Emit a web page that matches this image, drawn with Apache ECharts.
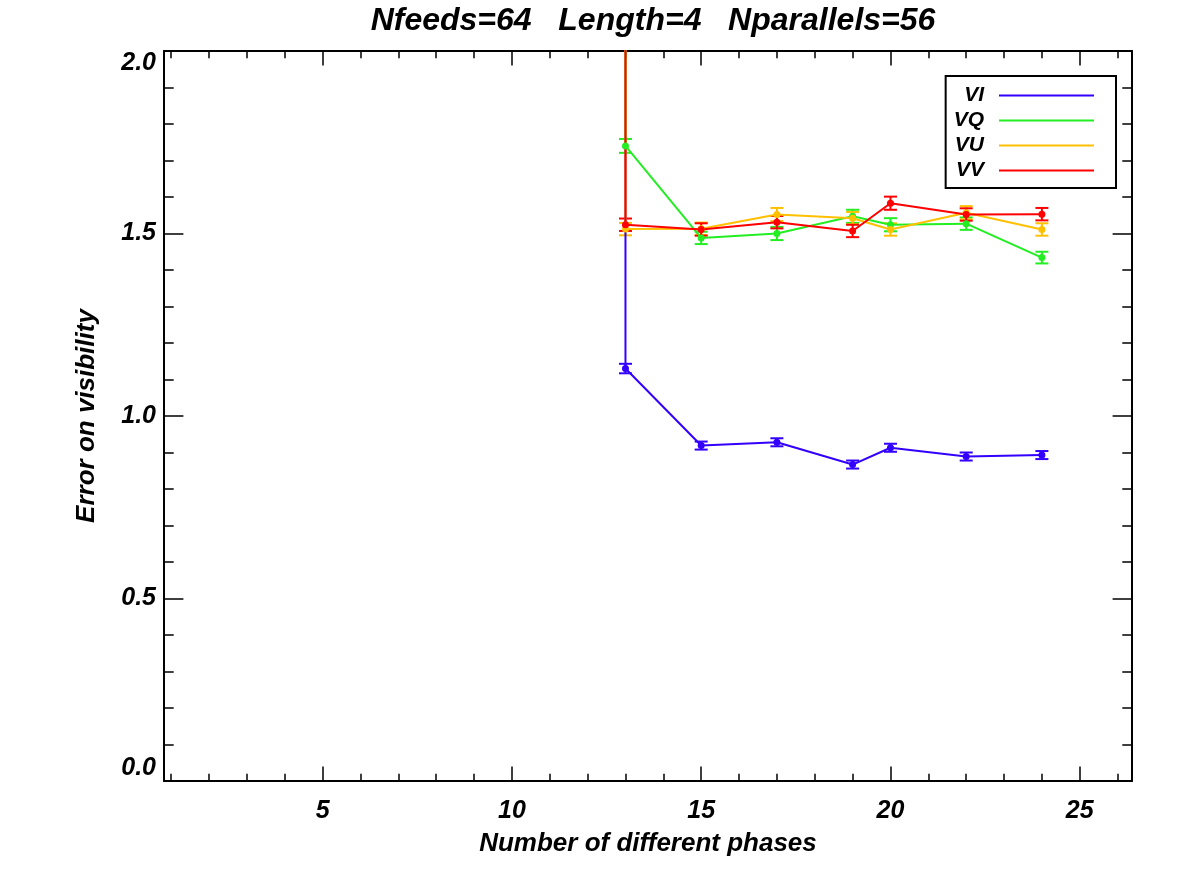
<!DOCTYPE html>
<html>
<head>
<meta charset="utf-8">
<script src="https://cdn.jsdelivr.net/npm/echarts@6/dist/echarts.min.js"></script>
<style>
  html, body { margin: 0; padding: 0; background: #fff; }
  #chart { width: 1181px; height: 885px; }
</style>
</head>
<body>
<div id="chart"></div>
<script>
const FONT = 'Liberation Sans, Arial, sans-serif'

// number of phases (first point is off the top of the plot)
const phases = [13, 13, 15, 17, 19, 20, 22, 24]

const VI = [2.6, 1.130, 0.919, 0.928, 0.867, 0.913, 0.889, 0.893]
const VI_ERR = [null, 0.013, 0.011, 0.011, 0.011, 0.011, 0.011, 0.011]
const VQ = [2.6, 1.740, 1.488, 1.500, 1.547, 1.524, 1.527, 1.434]
const VQ_ERR = [null, 0.019, 0.017, 0.018, 0.018, 0.018, 0.017, 0.016]
const VU = [2.6, 1.512, 1.513, 1.552, 1.542, 1.511, 1.557, 1.511]
const VU_ERR = [null, 0.017, 0.017, 0.018, 0.017, 0.017, 0.018, 0.017]
const VV = [2.6, 1.524, 1.511, 1.531, 1.507, 1.583, 1.552, 1.553]
const VV_ERR = [null, 0.017, 0.017, 0.017, 0.017, 0.018, 0.017, 0.017]

const seriesNames = ['VI', 'VQ', 'VU', 'VV']
const seriesValues = [VI, VQ, VU, VV]
const seriesErrors = [VI_ERR, VQ_ERR, VU_ERR, VV_ERR]
const colors = ['#3300ff', '#22ee22', '#ffc000', '#ff0000']

// axis ranges
const X_MIN = 0.81
const X_MAX = 26.38
const Y_MIN = 0
const Y_MAX = 2

// plot box in pixels
const GRID_L = 164
const GRID_R = 49
const GRID_T = 51
const GRID_B = 104
const GRID_W = 1181 - GRID_L - GRID_R

// second grid only carries the unit minor ticks on x (1..26)
const MINOR_MIN = 1
const MINOR_MAX = 26
const minorLeft = GRID_L + (MINOR_MIN - X_MIN) / (X_MAX - X_MIN) * GRID_W
const minorRight = GRID_R + (X_MAX - MINOR_MAX) / (X_MAX - X_MIN) * GRID_W

const labelFont = { color: '#000', fontFamily: FONT, fontWeight: 'bold', fontStyle: 'italic' }
const axisLine = { show: true, onZero: false, lineStyle: { color: '#000', width: 2 } }

const chart = echarts.init(document.getElementById('chart'), null, { renderer: 'canvas' })

const series = []
seriesNames.forEach((name, i) => {
  const pts = phases.map((x, k) => [x, seriesValues[i][k]])
  const errs = phases.map((x, k) => [x, seriesValues[i][k], seriesErrors[i][k]])
  series.push({
    name: name,
    type: 'line',
    xAxisIndex: 0,
    yAxisIndex: 0,
    data: pts,
    symbol: 'circle',
    symbolSize: 7,
    showAllSymbol: true,
    clip: true,
    animation: false,
    lineStyle: { color: colors[i], width: 2 },
    itemStyle: { color: colors[i] },
  })
  series.push({
    name: name + ' err',
    type: 'custom',
    xAxisIndex: 0,
    yAxisIndex: 0,
    data: errs,
    encode: { x: 0, y: 1 },
    animation: false,
    renderItem: function (params, api) {
      const e = api.value(2)
      if (e === null || isNaN(e)) return
      const x = api.value(0)
      const y = api.value(1)
      const top = api.coord([x, y + e])
      const bot = api.coord([x, y - e])
      const hw = 6.5
      const style = { stroke: colors[i], lineWidth: 2 }
      return {
        type: 'group',
        children: [
          { type: 'line', shape: { x1: top[0], y1: top[1], x2: bot[0], y2: bot[1] }, style: style },
          { type: 'line', shape: { x1: top[0] - hw, y1: top[1], x2: top[0] + hw, y2: top[1] }, style: style },
          { type: 'line', shape: { x1: bot[0] - hw, y1: bot[1], x2: bot[0] + hw, y2: bot[1] }, style: style },
        ],
      }
    },
  })
})

const option = {
  backgroundColor: '#fff',
  animation: false,
  title: {
    text: 'Nfeeds=64   Length=4   Nparallels=56',
    left: GRID_L + GRID_W / 2,
    textAlign: 'center',
    top: 0,
    textStyle: Object.assign({ fontSize: 32 }, labelFont),
  },
  legend: {
    data: seriesNames,
    orient: 'vertical',
    align: 'right',
    right: 65,
    top: 76,
    icon: 'rect',
    itemWidth: 95,
    itemHeight: 2,
    itemGap: 4,
    padding: [9, 22, 7, 8],
    borderColor: '#000',
    borderWidth: 2,
    borderRadius: 0,
    selectedMode: false,
    textStyle: Object.assign({ fontSize: 21, lineHeight: 20, padding: [0, 10, 0, 0] }, labelFont),
  },
  grid: [
    { left: GRID_L, right: GRID_R, top: GRID_T, bottom: GRID_B },
    { left: minorLeft, right: minorRight, top: GRID_T, bottom: GRID_B },
  ],
  xAxis: [
    {
      gridIndex: 0,
      type: 'value',
      position: 'bottom',
      min: X_MIN,
      max: X_MAX,
      splitNumber: 5,
      axisLine: axisLine,
      axisTick: { show: true, inside: true, length: 14.6, lineStyle: { color: '#000', width: 1.5 } },
      axisLabel: Object.assign({ fontSize: 25, margin: 18, showMinLabel: false, showMaxLabel: false }, labelFont),
      splitLine: { show: false },
      name: 'Number of different phases',
      nameLocation: 'middle',
      nameGap: 50,
      nameTextStyle: Object.assign({ fontSize: 26 }, labelFont),
    },
    {
      gridIndex: 0,
      type: 'value',
      position: 'top',
      min: X_MIN,
      max: X_MAX,
      splitNumber: 5,
      axisLine: axisLine,
      axisTick: { show: true, inside: true, length: 14.6, lineStyle: { color: '#000', width: 1.5 } },
      axisLabel: { show: false },
      splitLine: { show: false },
    },
    {
      gridIndex: 1,
      type: 'value',
      position: 'bottom',
      min: MINOR_MIN,
      max: MINOR_MAX,
      interval: 1,
      axisLine: { show: false },
      axisTick: { show: true, inside: true, length: 7.3, lineStyle: { color: '#000', width: 1.5 } },
      axisLabel: { show: false },
      splitLine: { show: false },
    },
    {
      gridIndex: 1,
      type: 'value',
      position: 'top',
      min: MINOR_MIN,
      max: MINOR_MAX,
      interval: 1,
      axisLine: { show: false },
      axisTick: { show: true, inside: true, length: 7.3, lineStyle: { color: '#000', width: 1.5 } },
      axisLabel: { show: false },
      splitLine: { show: false },
    },
  ],
  yAxis: [
    {
      gridIndex: 0,
      type: 'value',
      position: 'left',
      min: Y_MIN,
      max: Y_MAX,
      interval: 0.5,
      axisLine: axisLine,
      axisTick: { show: true, inside: true, length: 19.4, lineStyle: { color: '#000', width: 1.5 } },
      minorTick: { show: true, splitNumber: 5, length: 9.7, lineStyle: { color: '#000', width: 1.5 } },
      axisLabel: Object.assign({
        fontSize: 25,
        margin: 8,
        formatter: (v) => v.toFixed(1),
        verticalAlignMinLabel: 'bottom',
        verticalAlignMaxLabel: 'top',
      }, labelFont),
      splitLine: { show: false },
      name: 'Error on visibility',
      nameLocation: 'middle',
      nameGap: 64,
      nameTextStyle: Object.assign({ fontSize: 26 }, labelFont),
    },
    {
      gridIndex: 0,
      type: 'value',
      position: 'right',
      min: Y_MIN,
      max: Y_MAX,
      interval: 0.5,
      axisLine: axisLine,
      axisTick: { show: true, inside: true, length: 19.4, lineStyle: { color: '#000', width: 1.5 } },
      minorTick: { show: true, splitNumber: 5, length: 9.7, lineStyle: { color: '#000', width: 1.5 } },
      axisLabel: { show: false },
      splitLine: { show: false },
    },
    {
      gridIndex: 1,
      type: 'value',
      show: false,
      min: Y_MIN,
      max: Y_MAX,
    },
  ],
  series: series,
}

chart.setOption(option)
</script>
</body>
</html>
